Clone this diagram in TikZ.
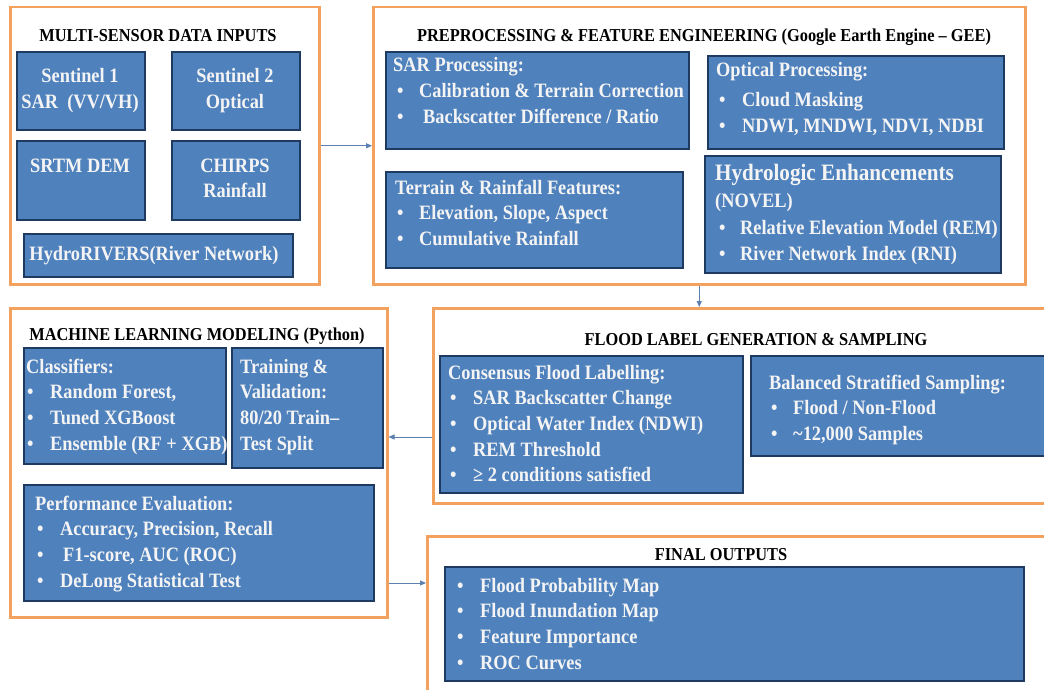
\documentclass[tikz,border=0pt]{standalone}
\usepackage{fontspec}
\setmainfont{Liberation Serif}[FakeStretch=0.9]
\usetikzlibrary{arrows.meta}
\definecolor{frameor}{HTML}{F2A25E}
\definecolor{boxblue}{HTML}{4F81BD}
\definecolor{boxedge}{HTML}{1F3A60}
\definecolor{arrc}{HTML}{5B7FAE}
\definecolor{txtw}{HTML}{F4F4F4}
\newcommand\bxf{\fontsize{20.4}{25.7}\selectfont\bfseries}
\newcommand\bigf{\fontsize{23.5}{28}\selectfont\bfseries}
\newcommand\ttf{\fontsize{18.2}{21}\selectfont\bfseries}
\newcommand\itm[3]{\hspace*{#1}\makebox[#2][l]{•}#3}
\newcommand\lines[2]{\begin{tabular}[t]{@{}#1@{}}#2\end{tabular}}
\begin{document}
\begin{tikzpicture}[x=1pt,y=-1pt,
 frame/.style={draw=frameor, line width=2.5pt, inner sep=0pt, anchor=north west},
 bluebox/.style={draw=boxedge, fill=boxblue, line width=2pt, inner sep=0pt, anchor=north west},
 intext/.style={text=txtw, font=\bxf, inner sep=0pt, anchor=base west},
 ctext/.style={text=txtw, font=\bxf, inner sep=0pt, anchor=base},
 title/.style={text=black, font=\ttf, inner sep=0pt, anchor=base},
 arr/.style={draw=arrc, line width=1pt, -{Triangle[length=6pt,width=5pt]}}]
\useasboundingbox (0,0) rectangle (1044,690);
\fill[white] (0,0) rectangle (1044,690);

% frames
\node[frame, minimum width=309pt, minimum height=277pt] (f1) at (9,6) {};
\node[frame, minimum width=652pt, minimum height=277pt] (f2) at (372,6) {};
\node[frame, minimum width=377pt, minimum height=309pt] (f3) at (9,307) {};
\node[frame, minimum width=640pt, minimum height=195pt] (f4) at (432,307) {};
\node[frame, minimum width=650pt, minimum height=170pt] (f5) at (426,535) {};

% titles
\node[title] (t1) at (158,42) {MULTI-SENSOR DATA INPUTS};
\node[title] (t2) at (704,42) {PREPROCESSING \& FEATURE ENGINEERING (Google Earth Engine – GEE)};
\node[title] (t3) at (197,340) {MACHINE LEARNING MODELING (Python)};
\node[title] (t4) at (756,345) {FLOOD LABEL GENERATION \& SAMPLING};
\node[title] (t5) at (721,560) {FINAL OUTPUTS};

% blue boxes
\node[bluebox, minimum width=128pt, minimum height=78pt] (s1) at (16,51) {};
\node[bluebox, minimum width=128pt, minimum height=78pt] (s2) at (171,51) {};
\node[bluebox, minimum width=128pt, minimum height=79pt] (srtm) at (16,140) {};
\node[bluebox, minimum width=128pt, minimum height=79pt] (chirps) at (171,140) {};
\node[bluebox, minimum width=269pt, minimum height=43pt] (hydro) at (23,233) {};
\node[bluebox, minimum width=303pt, minimum height=97pt] (sar) at (385,51) {};
\node[bluebox, minimum width=297pt, minimum height=96pt] (terr) at (385,171) {};
\node[bluebox, minimum width=296pt, minimum height=93pt] (opt) at (707,55) {};
\node[bluebox, minimum width=296pt, minimum height=117pt] (hyd) at (704,155) {};
\node[bluebox, minimum width=202pt, minimum height=116pt] (cls) at (23,347) {};
\node[bluebox, minimum width=151pt, minimum height=120pt] (trn) at (231,347) {};
\node[bluebox, minimum width=350pt, minimum height=116pt] (perf) at (23,484) {};
\node[bluebox, minimum width=303pt, minimum height=137pt] (cons) at (439,355) {};
\node[bluebox, minimum width=320pt, minimum height=100pt] (bal) at (750,355) {};
\node[bluebox, minimum width=579pt, minimum height=114pt] (fin) at (444,566) {};

% texts: inputs
\node[ctext] (s1t) at (80,83) {\lines{c}{Sentinel 1\\SAR\ \ (VV/VH)}};
\node[ctext] (s2t) at (235,83) {\lines{c}{Sentinel 2\\Optical}};
\node[ctext] (srtmt) at (80,172) {SRTM DEM};
\node[ctext] (chirpst) at (235,172) {\lines{c}{CHIRPS\\Rainfall}};
\node[ctext] (hydrot) at (154,260) {HydroRIVERS(River Network)};

% texts: preprocessing
\node[intext] (sart) at (393,72) {\lines{l}{SAR Processing:\\
 \itm{4pt}{22pt}{Calibration \& Terrain Correction}\\
 \itm{4pt}{26pt}{Backscatter Difference / Ratio}}};
\node[intext] (terrt) at (395,194) {\lines{l}{Terrain \& Rainfall Features:\\
 \itm{2pt}{22pt}{Elevation, Slope, Aspect}\\
 \itm{2pt}{22pt}{Cumulative Rainfall}}};
\node[intext] (optt) at (716,77) {\lines{l}{Optical Processing:\\[4pt]
 \itm{3pt}{23pt}{Cloud Masking}\\
 \itm{3pt}{23pt}{NDWI, MNDWI, NDVI, NDBI}}};
\node[intext, font=\bigf] (hydh) at (715,180) {Hydrologic Enhancements};
\node[intext] (hydt) at (715,207) {\lines{l}{(NOVEL)\\[2pt]
 \itm{4pt}{21pt}{Relative Elevation Model (REM)}\\
 \itm{4pt}{21pt}{River Network Index (RNI)}}};

% texts: machine learning
\node[intext] (clst) at (26,373) {\lines{l}{Classifiers:\\
 \itm{1pt}{23pt}{Random Forest,}\\
 \itm{1pt}{23pt}{Tuned XGBoost}\\
 \itm{1pt}{23pt}{Ensemble (RF + XGB)}}};
\node[intext] (trnt) at (240,373) {\lines{l}{Training \&\\Validation:\\80/20 Train–\\Test Split}};
\node[intext] (perft) at (35,510) {\lines{l}{Performance Evaluation:\\
 \itm{2pt}{23pt}{Accuracy, Precision, Recall}\\
 \itm{2pt}{26pt}{F1-score, AUC (ROC)}\\
 \itm{2pt}{23pt}{DeLong Statistical Test}}};

% texts: flood labels
\node[intext] (const) at (448,379) {\lines{l}{Consensus Flood Labelling:\\
 \itm{2pt}{23pt}{SAR Backscatter Change}\\
 \itm{2pt}{23pt}{Optical Water Index (NDWI)}\\
 \itm{2pt}{23pt}{REM Threshold}\\
 \itm{2pt}{23pt}{≥ 2 conditions satisfied}}};
\node[intext] (balt) at (769,389) {\lines{l}{Balanced Stratified Sampling:\\
 \itm{2pt}{22pt}{Flood / Non-Flood}\\
 \itm{2pt}{22pt}{\textasciitilde12,000 Samples}}};

% texts: final outputs
\node[intext] (fint) at (457,592) {\lines{l}{%
 \itm{0pt}{23pt}{Flood Probability Map}\\
 \itm{0pt}{23pt}{Flood Inundation Map}\\
 \itm{0pt}{23pt}{Feature Importance}\\
 \itm{0pt}{23pt}{ROC Curves}}};

% connectors
\coordinate (ya) at (0,437);
\coordinate (yb) at (0,583);
\draw[arr] (f1) -- (f2);
\draw[arr] (f2.south) -- (f2.south |- f4.north);
\draw[arr] (f4.west |- ya) -- (f3.east |- ya);
\draw[arr] (f3.east |- yb) -- (f5.west |- yb);
\end{tikzpicture}
\end{document}
